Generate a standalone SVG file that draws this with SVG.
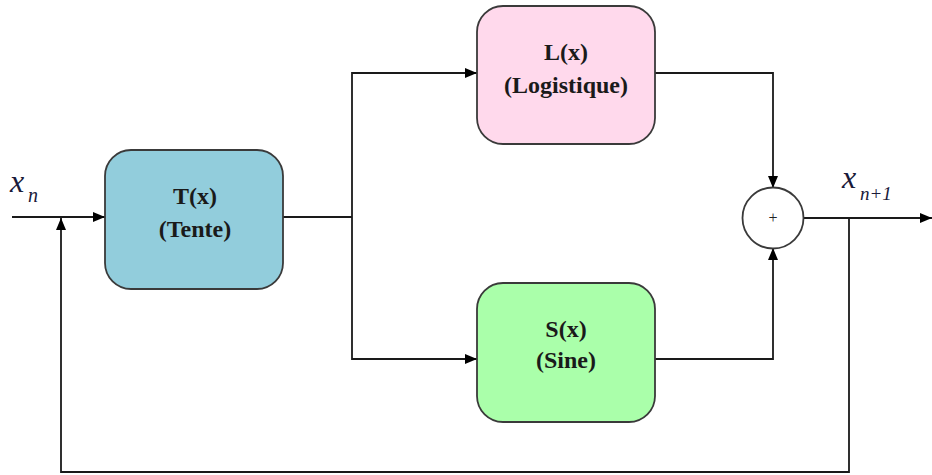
<svg xmlns="http://www.w3.org/2000/svg" width="932" height="475" viewBox="0 0 932 475">
<style>
.box{stroke:#3a3a3a;stroke-width:1.8}
.lbl{font-family:'Liberation Serif','DejaVu Serif','Times New Roman',serif;font-weight:bold;font-size:24px;fill:#1a1a1a;text-anchor:middle}
.var{font-family:'Liberation Serif','DejaVu Serif','Times New Roman',serif;font-style:italic;fill:#1a1a3a}
.ln{fill:none;stroke:#1a1a1a;stroke-width:1.8}
</style>
<defs>
<marker id="ah" viewBox="0 0 12 10" refX="12" refY="5" markerWidth="12" markerHeight="10" markerUnits="userSpaceOnUse" orient="auto">
<path d="M0,0 L12,5 L0,10 Z" fill="#000"/>
</marker>
</defs>
<rect width="932" height="475" fill="#fff"/>
<g id="connectors">
<line class="ln" x1="12" y1="217" x2="105" y2="217" marker-end="url(#ah)"/>
<polyline class="ln" points="283,217 352,217"/>
<polyline class="ln" points="352,217 352,73 477,73" marker-end="url(#ah)"/>
<polyline class="ln" points="352,217 352,359 477,359" marker-end="url(#ah)"/>
<polyline class="ln" points="655,73 773,73 773,188" marker-end="url(#ah)"/>
<polyline class="ln" points="655,359 773,359 773,248" marker-end="url(#ah)"/>
<line class="ln" x1="804" y1="218" x2="932" y2="218" marker-end="url(#ah)"/>
<polyline class="ln" points="849,218 849,472 61,472 61,218" marker-end="url(#ah)"/>
</g>
<g id="tent">
<rect class="box" x="105" y="150" width="178" height="139" rx="26" fill="#92CDDC"/>
<text class="lbl" x="195" y="204">T(x)</text>
<text class="lbl" x="195" y="237">(Tente)</text>
</g>
<g id="logistique">
<rect class="box" x="477" y="6" width="178" height="138" rx="26" fill="#FFD9EC"/>
<text class="lbl" x="566" y="60">L(x)</text>
<text class="lbl" x="566" y="93">(Logistique)</text>
</g>
<g id="sine">
<rect class="box" x="477" y="283" width="178" height="139" rx="26" fill="#AAFFAA"/>
<text class="lbl" x="566" y="337">S(x)</text>
<text class="lbl" x="566" y="368">(Sine)</text>
</g>
<g id="sum">
<circle cx="773" cy="218" r="30.5" fill="#fff" stroke="#3a3a3a" stroke-width="1.8"/>
<text x="773" y="223" font-family="'Liberation Serif', serif" font-size="16" text-anchor="middle" fill="#222">+</text>
</g>
<g id="label-xn">
<text class="var" x="10" y="192" font-size="32">x</text>
<text class="var" x="28" y="202" font-size="20">n</text>
</g>
<g id="label-xn1">
<text class="var" x="842" y="188" font-size="32">x</text>
<text class="var" x="860" y="200" font-size="19">n+1</text>
</g>
</svg>
